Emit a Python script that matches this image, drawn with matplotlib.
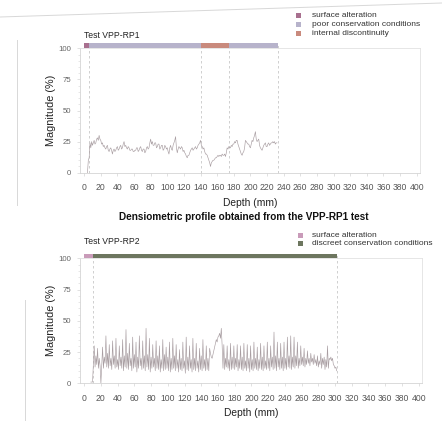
import numpy as np
import matplotlib
matplotlib.use("Agg")
import matplotlib.pyplot as plt
from matplotlib.lines import Line2D

plt.rcParams['font.family'] = ['Liberation Sans', 'DejaVu Sans']

# ---------------- data ----------------
rp1_start = 4
rp1_values = [
    0, 10, 12, 24, 20, 25, 22, 24, 26, 23,
    24, 27, 28, 26, 30, 27, 26, 23, 24, 21,
    22, 20, 19, 21, 22, 18, 17, 19, 20, 18,
    15, 18, 19, 17, 18, 20, 21, 18, 19, 21,
    22, 19, 20, 23, 25, 21, 22, 20, 19, 21,
    20, 18, 18, 19, 19, 17, 17, 18, 18, 20,
    20, 17, 18, 20, 21, 18, 17, 19, 19, 16,
    17, 20, 21, 19, 20, 24, 27, 23, 25, 22,
    22, 24, 24, 20, 21, 23, 23, 19, 20, 22,
    22, 18, 19, 22, 21, 19, 20, 17, 15, 20,
    22, 19, 18, 22, 24, 26, 29, 20, 16, 19,
    21, 20, 19, 21, 20, 17, 18, 16, 15, 13,
    12, 14, 14, 16, 18, 19, 20, 18, 19, 20,
    21, 19, 20, 22, 23, 24, 26, 22, 21, 19,
    20, 17, 15, 15, 14, 12, 10, 8, 5, 8,
    9, 10, 10, 11, 12, 12, 13, 14, 13, 14,
    14, 13, 15, 14, 14, 15, 13, 16, 20, 19,
    21, 20, 20, 22, 21, 23, 23, 25, 24, 26,
    26, 23, 21, 19, 17, 15, 14, 16, 17, 20,
    26, 25, 24, 23, 23, 21, 20, 23, 26, 25,
    28, 30, 33, 27, 25, 26, 27, 22, 20, 19,
    18, 20, 22, 23, 24, 21, 21, 23, 24, 22,
    23, 24, 24, 25, 24, 25, 23, 24, 24,
]

rp2_start = 8
rp2_values = [
    1, 1, 1, 15,
    30, 13, 22, 15, 28, 12, 20, 14,
    0, 14, 29, 12, 21, 16, 38, 13,
    24, 12, 31, 14, 20, 11, 34, 15,
    22, 12, 36, 13, 19, 11, 30, 14,
    21, 12, 35, 10, 22, 13, 43, 12,
    24, 11, 32, 14, 20, 10, 37, 12,
    23, 13, 33, 9, 21, 12, 38, 14,
    20, 11, 34, 12, 22, 10, 44, 13,
    23, 11, 36, 9, 21, 12, 31, 13,
    20, 10, 34, 12, 22, 11, 30, 9,
    19, 12, 35, 10, 23, 11, 29, 12,
    21, 10, 33, 9, 20, 11, 36, 12,
    22, 10, 31, 12, 19, 9, 27, 11,
    20, 10, 33, 12, 18, 8, 37, 11,
    21, 10, 30, 12, 19, 9, 36, 11,
    20, 10, 32, 12, 18, 9, 28, 11,
    22, 10, 35, 12, 19, 10, 30, 11,
    20, 10, 28, 24, 21, 20, 23, 26,
    29, 32, 35, 33, 37, 38, 40, 36,
    44, 30, 12, 31, 11, 20, 13, 30,
    12, 19, 10, 32, 11, 21, 12, 30,
    11, 20, 13, 31, 10, 19, 12, 30,
    11, 21, 10, 32, 12, 18, 10, 31,
    12, 20, 9, 30, 11, 19, 10, 33,
    12, 20, 11, 29, 10, 19, 12, 32,
    11, 21, 10, 30, 12, 18, 11, 33,
    12, 20, 10, 30, 13, 21, 11, 41,
    12, 22, 10, 33, 13, 20, 11, 32,
    12, 21, 10, 33, 12, 20, 11, 37,
    13, 22, 12, 38, 11, 21, 13, 37,
    12, 22, 14, 33, 12, 20, 14, 30,
    15, 21, 14, 28, 13, 20, 15, 26,
    16, 20, 14, 24, 17, 20, 15, 23,
    16, 19, 14, 22, 13, 18, 15, 24,
    12, 20, 15, 21, 11, 19, 13, 30,
    12, 20, 19, 21, 18, 20, 15, 14,
    12, 13, 10,
]

# zones: (start, end, label)
rp1_zones = [(0, 6, 'surface alteration'),
             (6, 141, 'poor conservation conditions'),
             (141, 174, 'internal discontinuity'),
             (174, 233, 'poor conservation conditions')]
rp1_legend = ['surface alteration', 'poor conservation conditions', 'internal discontinuity']
rp1_colors = {'surface alteration': '#a8708f',
              'poor conservation conditions': '#b7b3cb',
              'internal discontinuity': '#c98a7d'}
rp1_dashes = [6, 141, 174, 233]

rp2_zones = [(0, 10, 'surface alteration'),
             (10, 302, 'discreet conservation conditions')]
rp2_legend = ['surface alteration', 'discreet conservation conditions']
rp2_colors = {'surface alteration': '#c99bb9',
              'discreet conservation conditions': '#6d765f'}
rp2_dashes = [10, 302]

x_ticks = list(range(0, 401, 20))
y_ticks = [0, 25, 50, 75, 100]

line_color = '#a89da1'
grid_grey = '#d4d4d4'
tick_grey = '#666666'

fig = plt.figure(figsize=(4.42, 4.21), dpi=100)
fig.patch.set_facecolor('white')

W, H = 442, 421


def make_axes(left_px, right_px, top_px, bottom_px):
    return fig.add_axes([left_px / W, 1 - bottom_px / H,
                         (right_px - left_px) / W, (bottom_px - top_px) / H])


def style_panel(ax, start, values, zones, colors, dashes, bar_h, width_px):
    depth = np.arange(start, start + len(values))
    ax.plot(depth, values, color=line_color, lw=0.45, zorder=3)
    ax.set_xlim(-5, 404)
    ax.set_ylim(0, 100)
    for d in dashes:
        ax.plot([d, d], [0, 100 + bar_h], color='#c8c8c8', lw=0.6,
                ls=(0, (3, 3)), clip_on=False, zorder=2)
    for s, e, lab in zones:
        ax.bar(s, bar_h, width=e - s, bottom=100.3, align='edge',
               color=colors[lab], clip_on=False, zorder=4, lw=0)
    for side in ['top', 'right']:
        ax.spines[side].set_color('#e2e2e2')
        ax.spines[side].set_linewidth(0.6)
    for side in ['left', 'bottom']:
        ax.spines[side].set_color(grid_grey)
        ax.spines[side].set_linewidth(0.6)
    ax.set_xticks(x_ticks)
    ax.set_yticks(y_ticks)
    ax.set_yticks([5 * i for i in range(21)], minor=True)
    ax.tick_params(axis='both', which='major', colors=grid_grey,
                   length=2.5, width=0.5)
    ax.tick_params(axis='y', which='major', labelsize=5.6, labelcolor=tick_grey, pad=4)
    ax.tick_params(axis='y', which='minor', colors=grid_grey, length=1.5, width=0.4)
    ax.tick_params(axis='x', labelsize=6.2, labelcolor='#555555', pad=5)
    ax.set_xlabel('Depth (mm)', fontsize=7.4, color='#222222', labelpad=4)
    ax.set_ylabel('Magnitude (%)', fontsize=7.8, color='#222222')
    ax.yaxis.set_label_coords(-24 / width_px, 0.5)


ax1 = make_axes(80, 420, 48.3, 172.7)
style_panel(ax1, rp1_start, rp1_values, rp1_zones, rp1_colors, rp1_dashes, 4, 340)
ax2 = make_axes(80, 422, 258.3, 383.3)
style_panel(ax2, rp2_start, rp2_values, rp2_zones, rp2_colors, rp2_dashes, 3.5, 342)

fig.text(84 / W, 1 - 35 / H, 'Test VPP-RP1', fontsize=6.2, color='#222222', va='center')
fig.text(84 / W, 1 - 242 / H, 'Test VPP-RP2', fontsize=6.2, color='#222222', va='center')
fig.text(0.551, 1 - 217 / H, 'Densiometric profile obtained from the VPP-RP1 test',
         fontsize=7.2, fontweight='bold', ha='center', va='center', color='#111111')


def legend(labels, colors, x_sq, x_txt, ys):
    for lab, y in zip(labels, ys):
        fig.patches.append(plt.Rectangle(((x_sq - 2.5) / W, 1 - (y + 2.5) / H), 5 / W, 5 / H,
                                         transform=fig.transFigure, color=colors[lab], lw=0))
        fig.text(x_txt / W, 1 - y / H, lab, fontsize=6, color='#333333', va='center')


legend(rp1_legend, rp1_colors, 298.5, 312.5, [15.7, 24.8, 33.5])
legend(rp2_legend, rp2_colors, 300, 312.5, [235.5, 243.8])

# faint scan edges
fig.add_artist(Line2D([0, 1], [1 - 17 / H, 1 - 3 / H], transform=fig.transFigure,
                      color='#d8d8d8', lw=0.7))
fig.add_artist(Line2D([17 / W, 17 / W], [1 - 40 / H, 1 - 205 / H], transform=fig.transFigure,
                      color='#d8d8d8', lw=0.7))
fig.add_artist(Line2D([25 / W, 25 / W], [1 - 300 / H, 0], transform=fig.transFigure,
                      color='#d8d8d8', lw=0.7))

fig.savefig('out.png', dpi=100, facecolor='white')
